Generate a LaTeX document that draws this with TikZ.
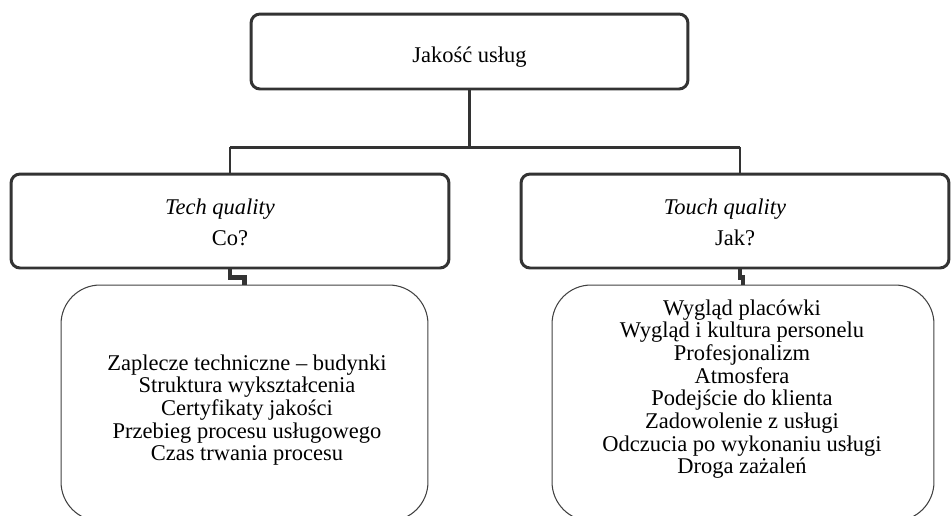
\documentclass[tikz,border=0pt]{standalone}
\usepackage{fontspec}
\setmainfont{Liberation Serif}
\begin{document}
\begin{tikzpicture}[x=0.02cm,y=-0.02cm,
	mainbox/.style={draw=black!80,line width=1.7pt,rounded corners=0.18cm,inner sep=0pt,align=center,font=\fontsize{12.8}{19.4}\selectfont},
	listbox/.style={draw=black!75,line width=0.6pt,rounded corners=0.78cm,inner sep=0pt,minimum height=4.72cm},
	listtext/.style={align=center,font=\fontsize{12.8}{12.9}\selectfont},
	conn/.style={draw=black!80,line width=1.7pt},
	stepline/.style={draw=black!80,line width=2.8pt}]
		\useasboundingbox (0,0) rectangle (951,515);
		\clip (0,0) rectangle (951,515);
		\node[mainbox,minimum width=8.74cm,minimum height=1.5cm] (quality) at (469.5,51.5) {\raisebox{-0.12cm}[\height][\depth]{Jakość usług}};
		\node[mainbox,minimum width=8.76cm,minimum height=1.88cm] (tech) at (230,221) {\raisebox{-0.06cm}[\height][\depth]{\textit{Tech quality}\hspace*{0.4cm}}\\Co?};
		\node[mainbox,minimum width=8.56cm,minimum height=1.88cm] (touch) at (735,221) {\raisebox{-0.06cm}[\height][\depth]{\textit{Touch quality}\hspace*{0.4cm}}\\Jak?};
		\node[listbox,minimum width=7.34cm] (techlist) at (244.5,403) {};
		\node[listbox,minimum width=7.64cm] (touchlist) at (743,403) {};
		\node[listtext] (techitems) at (247,410) {Zaplecze techniczne – budynki\\Struktura wykształcenia\\Certyfikaty jakości\\Przebieg procesu usługowego\\Czas trwania procesu};
		\node[listtext] (touchitems) at (742,389) {Wygląd placówki\\Wygląd i kultura personelu\\Profesjonalizm\\Atmosfera\\Podejście do klienta\\Zadowolenie z usługi\\Odczucia po wykonaniu usługi\\Droga zażaleń};
		\coordinate (JL) at (230,147);
		\coordinate (JR) at (740,147);
		\draw[conn] (quality.south) -- (quality.south |- JL);
		\draw[conn] (JL) -- (JR);
		\draw[conn] (JL) -- (tech.north);
		\draw[conn] (JR) -- (JR |- touch.north);
		\draw[stepline] (tech.south) -- ++(0,8) -| (techlist.north);
		\draw[stepline] (JR |- touch.south) -- ++(0,8) -| (touchlist.north);
\end{tikzpicture}
\end{document}
